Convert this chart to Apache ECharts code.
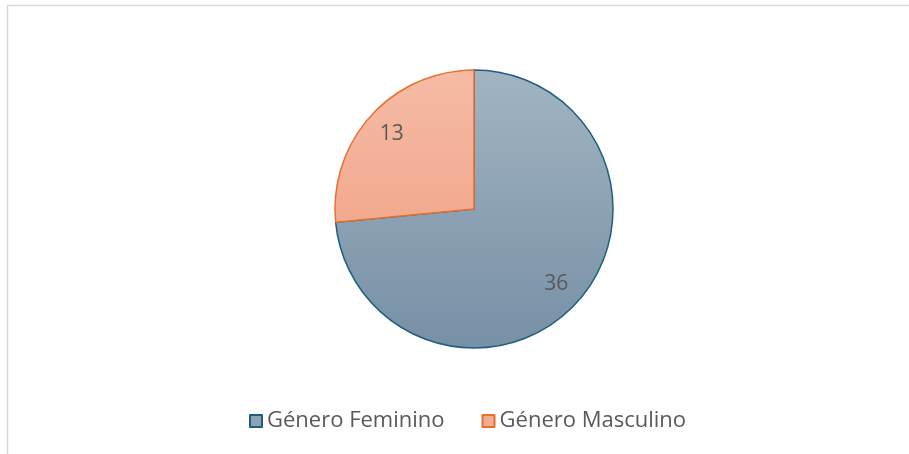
<!DOCTYPE html>
<html>
<head>
<meta charset="utf-8">
<title>pie</title>
<script src="https://cdn.jsdelivr.net/npm/echarts@6/dist/echarts.min.js"></script>
<style>
  html,body{margin:0;padding:0;background:#fff;}
  #main{width:909px;height:454px;}
</style>
</head>
<body>
<div id="main"></div>
<script>
  var categories = ['Género Feminino', 'Género Masculino'];
  var values = [36, 13];

  var chart = echarts.init(document.getElementById('main'));

  // degradado vertical sobre todo el círculo
  function grad(top, bottom) {
    return new echarts.graphic.LinearGradient(0, 70, 0, 348, [
      {offset: 0, color: top},
      {offset: 1, color: bottom}
    ], true);
  }

  var fills = [grad('#a2b4c2', '#7790a6'), grad('#f5bba5', '#f09b7b')];
  var borders = ['#1e5f80', '#e8702f'];
  var legendFill = ['#8ea3b6', '#f3ad92'];

  var option = {
    backgroundColor: '#fff',
    animation: false,
    graphic: [
      {type: 'line', shape: {x1: 7, y1: 5.5, x2: 909, y2: 5.5}, style: {stroke: '#d9d9d9', lineWidth: 1.5}},
      {type: 'line', shape: {x1: 7.5, y1: 5, x2: 7.5, y2: 454}, style: {stroke: '#d9d9d9', lineWidth: 1.5}}
    ],
    legend: {
      bottom: 17,
      left: 244,
      itemWidth: 12,
      itemHeight: 12,
      itemGap: 37,
      icon: 'rect',
      textStyle: {color: '#595959', fontSize: 22, fontFamily: 'Open Sans'},
      data: categories.map(function (c, i) {
        return {name: c, itemStyle: {color: legendFill[i], borderColor: borders[i], borderWidth: 2}};
      })
    },
    series: [
      {
        type: 'pie',
        center: [474, 209],
        radius: [0, 139],
        startAngle: 90,
        clockwise: true,
        label: {show: false},
        labelLine: {show: false},
        emphasis: {disabled: true},
        data: values.map(function (v, i) {
          return {
            name: categories[i], value: v,
            itemStyle: {color: fills[i], borderColor: borders[i], borderWidth: 1.5}
          };
        })
      },
      {
        // serie invisible solo para colocar las etiquetas más afuera
        type: 'pie',
        center: [474, 209],
        radius: [0, 216],
        startAngle: 90,
        clockwise: true,
        silent: true,
        legendHoverLink: false,
        label: {
          show: true,
          position: 'inside',
          color: '#595959',
          fontSize: 21,
          fontFamily: 'Open Sans',
          formatter: '{c}'
        },
        labelLine: {show: false},
        itemStyle: {color: 'rgba(0,0,0,0)', borderWidth: 0},
        data: values.map(function (v, i) {
          return {name: categories[i] + ' ', value: v};
        })
      }
    ]
  };
  chart.setOption(option);
</script>
</body>
</html>
